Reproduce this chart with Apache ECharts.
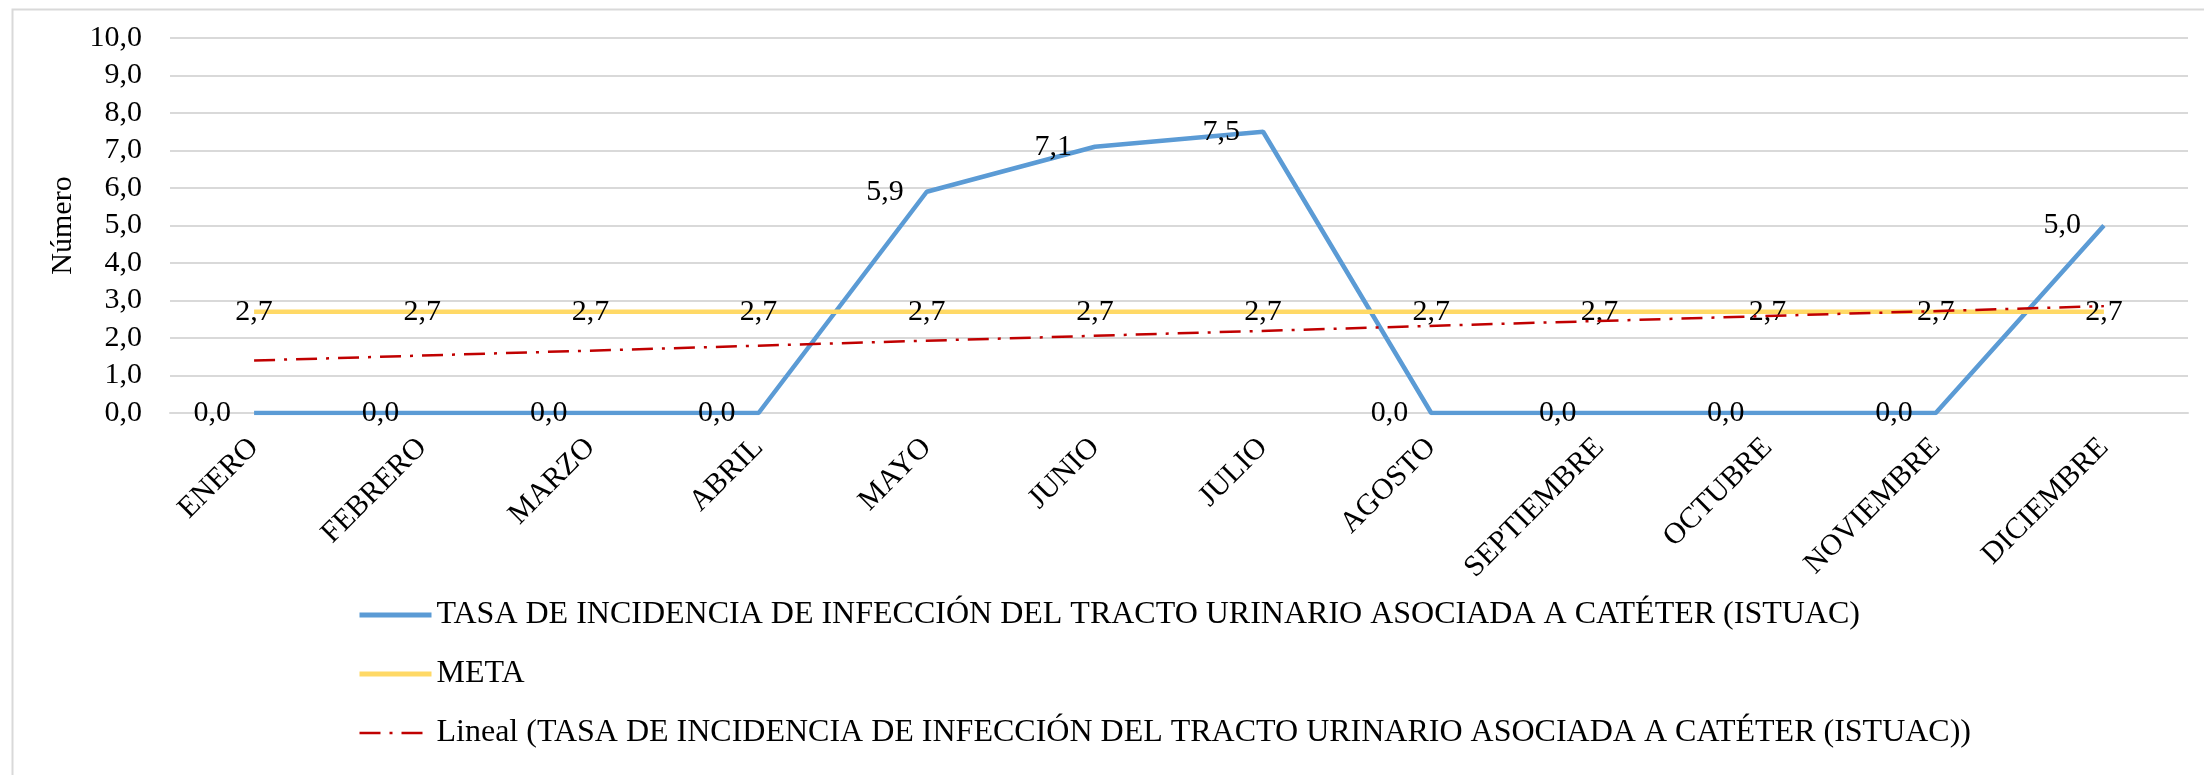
<!DOCTYPE html>
<html>
<head>
<meta charset="utf-8">
<script src="https://cdn.jsdelivr.net/npm/echarts@6/dist/echarts.min.js"></script>
<style>
html,body{margin:0;padding:0;background:#fff;}
#chart{width:2204px;height:775px;}
</style>
</head>
<body>
<div id="chart"></div>
<script>
const months = ['ENERO','FEBRERO','MARZO','ABRIL','MAYO','JUNIO','JULIO','AGOSTO','SEPTIEMBRE','OCTUBRE','NOVIEMBRE','DICIEMBRE'];
const istuac = [0.0, 0.0, 0.0, 0.0, 5.9, 7.1, 7.5, 0.0, 0.0, 0.0, 0.0, 5.0];
const meta = [2.7, 2.7, 2.7, 2.7, 2.7, 2.7, 2.7, 2.7, 2.7, 2.7, 2.7, 2.7];
// Excel linear trendline: only its two end values
const trendEnds = [1.4, null, null, null, null, null, null, null, null, null, null, 2.85];
const yTicks = [0, 1, 2, 3, 4, 5, 6, 7, 8, 9, 10];

const nameIstuac = 'TASA DE INCIDENCIA DE INFECCIÓN DEL TRACTO URINARIO ASOCIADA A CATÉTER (ISTUAC)';
const nameMeta = 'META';
const nameTrend = 'Lineal (TASA DE INCIDENCIA DE INFECCIÓN DEL TRACTO URINARIO ASOCIADA A CATÉTER (ISTUAC))';

const FONT = "'Liberation Serif', 'Times New Roman', serif";
const fmt = v => Number(v).toFixed(1).replace('.', ',');
const CLEAR = 'rgba(0,0,0,0)';

const chart = echarts.init(document.getElementById('chart'), null, {renderer: 'canvas'});
chart.setOption({
  backgroundColor: '#ffffff',
  animation: false,
  textStyle: {fontFamily: FONT, color: '#000'},
  graphic: [{
    type: 'rect', left: 10, top: 7, z: -10,
    shape: {x: 0, y: 0, width: 2400, height: 900},
    style: {fill: 'none', stroke: '#D9D9D9', lineWidth: 2}
  }],
  grid: {left: 170, right: 16, top: 38, bottom: 362, containLabel: false},
  legend: {
    orient: 'vertical', left: 357, top: 599, padding: 0,
    itemWidth: 72, itemHeight: 14, itemGap: 27,
    textStyle: {fontFamily: FONT, fontSize: 32, color: '#000', lineHeight: 32},
    data: [
      {name: nameIstuac, itemStyle: {color: CLEAR, borderColor: CLEAR}, lineStyle: {width: 5, color: '#5B9BD5'}},
      {name: nameMeta, itemStyle: {color: CLEAR, borderColor: CLEAR}, lineStyle: {width: 5, color: '#FFD966'}},
      {name: nameTrend, itemStyle: {color: CLEAR, borderColor: CLEAR}, lineStyle: {width: 2.5, color: '#C00000', type: [21, 9, 3, 9]}}
    ]
  },
  xAxis: {
    type: 'category', data: months, boundaryGap: true,
    axisLine: {show: true, lineStyle: {color: '#D9D9D9', width: 2}},
    axisTick: {show: false},
    axisLabel: {rotate: 45, fontFamily: FONT, fontSize: 30, color: '#000', margin: 30, interval: 0}
  },
  yAxis: {
    type: 'value', min: yTicks[0], max: yTicks[yTicks.length - 1], interval: 1,
    name: 'Número', nameLocation: 'middle', nameGap: 92,
    nameTextStyle: {fontFamily: FONT, fontSize: 30, color: '#000'},
    axisLine: {show: false}, axisTick: {show: false},
    axisLabel: {fontFamily: FONT, fontSize: 30, color: '#000', margin: 28, formatter: fmt},
    splitLine: {lineStyle: {color: '#D9D9D9', width: 2}}
  },
  series: [
    {
      name: nameIstuac, type: 'line', data: istuac, symbol: 'circle', symbolSize: 2, showSymbol: true, z: 2,
      lineStyle: {color: '#5B9BD5', width: 4.5},
      itemStyle: {color: CLEAR, borderColor: CLEAR, borderWidth: 0},
      label: {show: true, position: 'left', distance: 22, fontFamily: FONT, fontSize: 30, color: '#000',
        formatter: p => fmt(p.value)},
      emphasis: {disabled: true}
    },
    {
      name: nameMeta, type: 'line', data: meta, symbol: 'circle', symbolSize: 2, showSymbol: true, z: 3,
      lineStyle: {color: '#FFD966', width: 4.5},
      itemStyle: {color: CLEAR, borderColor: CLEAR, borderWidth: 0},
      label: {show: true, position: 'inside', fontFamily: FONT, fontSize: 30, color: '#000',
        formatter: p => fmt(p.value)},
      emphasis: {disabled: true}
    },
    {
      name: nameTrend, type: 'line', data: trendEnds, connectNulls: true, symbol: 'none', z: 4,
      lineStyle: {color: '#C00000', width: 2.5, type: [21, 9, 3, 9]},
      itemStyle: {color: '#C00000'},
      emphasis: {disabled: true}
    }
  ]
});
</script>
</body>
</html>
